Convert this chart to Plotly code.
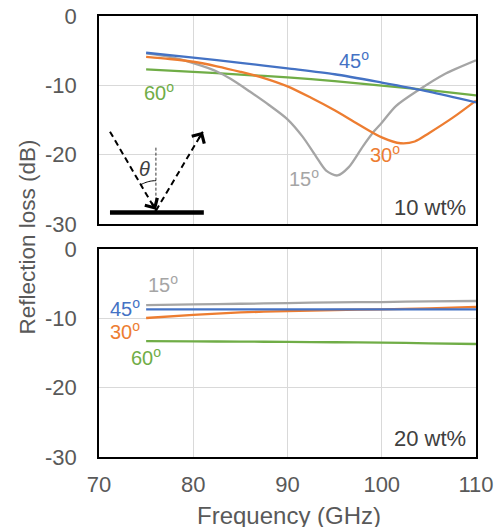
import numpy as np
import plotly.graph_objects as go

# ---------------- data ----------------
# 10 wt% panel
freq_10_15 = [75, 77.5, 80, 82.5, 84, 86, 88, 90, 91.6, 93, 94.1, 95.3, 96.5, 98, 99.2, 100, 101.5, 104, 106.5, 110]
rl_10_15 = [-5.4, -5.9, -6.8, -8.0, -9.1, -10.9, -12.8, -14.9, -17.4, -20.2, -22.3, -23.0, -21.8, -18.8, -16.6, -15.4, -13.0, -10.6, -8.5, -6.4]

freq_10_30 = [75, 77.5, 80, 82.5, 85, 87.5, 90, 92.5, 95, 97.5, 100, 102, 103.5, 105, 107.5, 110]
rl_10_30 = [-5.9, -6.2, -6.6, -7.25, -8.05, -8.95, -10.15, -11.8, -13.6, -15.6, -17.5, -18.35, -18.1, -16.9, -14.7, -12.2]

freq_10_45 = [75, 80, 85, 90, 95, 100, 105, 110]
rl_10_45 = [-5.3, -6.0, -6.75, -7.55, -8.4, -9.6, -10.9, -12.45]

freq_10_60 = [75, 80, 85, 90, 95, 100, 105, 110]
rl_10_60 = [-7.7, -8.05, -8.45, -8.85, -9.4, -10.05, -10.7, -11.45]

# 20 wt% panel
freq_20 = [75, 80, 85, 90, 95, 100, 105, 110]
rl_20_15 = [-8.1, -8.0, -7.9, -7.8, -7.7, -7.65, -7.55, -7.5]
rl_20_30 = [-9.95, -9.5, -9.15, -8.95, -8.8, -8.7, -8.55, -8.35]
rl_20_45 = [-8.7, -8.7, -8.7, -8.7, -8.7, -8.7, -8.7, -8.7]
rl_20_60 = [-13.3, -13.33, -13.36, -13.4, -13.45, -13.5, -13.6, -13.7]

x_ticks = [70, 80, 90, 100, 110]
y_ticks = [0, -10, -20, -30]
y_tick_text = ["0", "-10", "-20", "-30"]

# ---------------- style ----------------
C15, C30, C45, C60 = "#A5A5A5", "#ED7D31", "#4472C4", "#70AD47"
FONT = "Liberation Sans, Arial, sans-serif"
TICK_COLOR = "#595959"

fig = go.Figure()

def add_line(x, y, color, xa, ya):
    fig.add_trace(go.Scatter(x=x, y=y, mode="lines", xaxis=xa, yaxis=ya,
                             line=dict(color=color, width=2.3, shape="spline", smoothing=0.8),
                             showlegend=False, hoverinfo="skip"))

add_line(freq_10_60, rl_10_60, C60, "x", "y")
add_line(freq_10_15, rl_10_15, C15, "x", "y")
add_line(freq_10_30, rl_10_30, C30, "x", "y")
add_line(freq_10_45, rl_10_45, C45, "x", "y")

add_line(freq_20, rl_20_15, C15, "x2", "y2")
add_line(freq_20, rl_20_60, C60, "x2", "y2")
add_line(freq_20, rl_20_30, C30, "x2", "y2")
add_line(freq_20, rl_20_45, C45, "x2", "y2")

axis_common = dict(range=[70, 110], tickvals=x_ticks, showgrid=True, gridcolor="#D9D9D9",
                   gridwidth=1, zeroline=False, showline=True, linecolor="black", linewidth=1.5,
                   mirror=True, ticks="", automargin=False,
                   tickfont=dict(family=FONT, size=22, color=TICK_COLOR))
yaxis_common = dict(range=[-30, 0], tickvals=y_ticks, ticktext=y_tick_text, showgrid=True,
                    gridcolor="#D9D9D9", gridwidth=1, zeroline=False, showline=True,
                    linecolor="black", linewidth=1.5, automargin=False,
                    mirror=True, ticks="", ticklabelstandoff=16,
                    tickfont=dict(family=FONT, size=22, color=TICK_COLOR))

H = 441.0
fig.update_layout(
    width=502, height=527, autosize=False,
    margin=dict(l=99, r=26, t=16, b=70, autoexpand=False),
    paper_bgcolor="white", plot_bgcolor="white",
    xaxis=dict(axis_common, domain=[0, 1], anchor="y", showticklabels=False),
    yaxis=dict(yaxis_common, domain=[1 - 208 / H, 1], anchor="x"),
    xaxis2=dict(axis_common, domain=[0, 1], anchor="y2", ticklabelstandoff=7),
    yaxis2=dict(yaxis_common, domain=[0, 208 / H], anchor="x2"),
    font=dict(family=FONT),
)

def lab(text, x, y, color, xr="x", yr="y", size=20, xanchor="center"):
    fig.add_annotation(text=text, x=x, y=y, xref=xr, yref=yr, showarrow=False,
                       xanchor=xanchor, yanchor="middle",
                       font=dict(family=FONT, size=size, color=color))

deg = "<sup>o</sup>"
lab("45" + deg, 97.1, -6.3, C45)
lab("60" + deg, 76.4, -10.85, C60)
lab("30" + deg, 100.3, -19.9, C30)
lab("15" + deg, 91.8, -23.3, C15)
lab("10 wt%", 109.2, -27.6, "#404040", size=22, xanchor="right")

lab("15" + deg, 76.8, -4.95, C15, "x2", "y2")
lab("45" + deg, 72.75, -8.5, C45, "x2", "y2")
lab("30" + deg, 72.75, -11.8, C30, "x2", "y2")
lab("60" + deg, 75.0, -15.55, C60, "x2", "y2")
lab("20 wt%", 109.2, -27.4, "#404040", "x2", "y2", size=22, xanchor="right")

# axis titles
fig.add_annotation(text="Reflection loss (dB)", x=(27 - 99) / 377.0, y=1 - (237.5 - 16) / H,
                   xref="paper", yref="paper", showarrow=False, textangle=-90,
                   xanchor="center", yanchor="middle",
                   font=dict(family=FONT, size=22.5, color=TICK_COLOR))
fig.add_annotation(text="Frequency (GHz)", x=(289 - 99) / 377.0, y=-(515 - 457) / H,
                   xref="paper", yref="paper", showarrow=False,
                   xanchor="center", yanchor="middle",
                   font=dict(family=FONT, size=24, color=TICK_COLOR))

# ---------------- inset diagram (top panel) ----------------
def px2x(px):
    return 70 + (px - 99) / 9.44

def py2y(py):
    return -(py - 16.4) / 6.93

vx, vy = 156, 211
fig.add_shape(type="line", xref="x", yref="y", x0=px2x(110), x1=px2x(204), y0=py2y(212.7), y1=py2y(212.7),
              line=dict(color="black", width=4.5))
fig.add_shape(type="line", xref="x", yref="y", x0=px2x(110), y0=py2y(132), x1=px2x(vx), y1=py2y(vy),
              line=dict(color="black", width=2, dash="6px,4px"))
fig.add_shape(type="line", xref="x", yref="y", x0=px2x(vx), y0=py2y(vy), x1=px2x(203), y1=py2y(132),
              line=dict(color="black", width=2, dash="6px,4px"))
fig.add_shape(type="line", xref="x", yref="y", x0=px2x(vx), y0=py2y(148), x1=px2x(vx), y1=py2y(vy),
              line=dict(color="black", width=0.8, dash="3px,2px"))
ang = np.linspace(0, np.arctan2(46, 79), 12)
arc_pts = [(px2x(vx - 30 * np.sin(a)), py2y(vy - 30 * np.cos(a))) for a in ang]
path = "M " + " L ".join(f"{x:.4f},{y:.4f}" for x, y in arc_pts)
fig.add_shape(type="path", xref="x", yref="y", path=path, line=dict(color="black", width=1))
fig.add_annotation(text="<i>θ</i>", x=px2x(145), y=py2y(169), xref="x", yref="y", showarrow=False,
                   font=dict(family=FONT, size=20, color="#404040"))
# arrowheads
fig.add_annotation(text="", x=px2x(vx), y=py2y(vy - 1), xref="x", yref="y",
                   ax=px2x(vx - 5), ay=py2y(vy - 9.5), axref="x", ayref="y",
                   showarrow=True, arrowhead=4, arrowsize=1.4, arrowwidth=2, arrowcolor="black")
fig.add_annotation(text="", x=px2x(203), y=py2y(132), xref="x", yref="y",
                   ax=px2x(198), ay=py2y(140.5), axref="x", ayref="y",
                   showarrow=True, arrowhead=4, arrowsize=1.4, arrowwidth=2, arrowcolor="black")

fig.write_html("out.html", config={"displayModeBar": False},
               post_script="document.body.style.margin='0px';document.body.style.overflow='hidden';")
